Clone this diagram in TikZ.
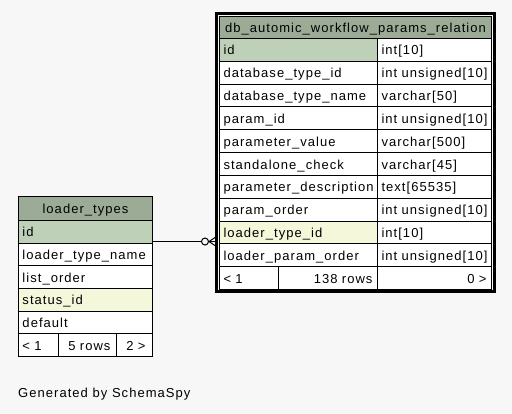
\documentclass[tikz,border=0pt]{standalone}
\usepackage{fontspec}
\newfontfamily\tf{Liberation Sans}[LetterSpace=8]
\usetikzlibrary{calc}
\definecolor{bgc}{HTML}{F7F7F7}
\definecolor{hdc}{HTML}{9BAB96}
\definecolor{pkc}{HTML}{BED1B8}
\definecolor{fkc}{HTML}{F4F7DA}
\tikzset{
  cell/.style={draw=black, line width=1pt, rectangle, anchor=north west,
    inner xsep=4pt, inner ysep=0pt, text height=13pt, text depth=3pt,
    font=\tf\fontsize{13}{15}\selectfont, fill=white},
  rrow/.style={cell, minimum height=22.82pt},
  lrow/.style={cell, minimum height=22.67pt},
  lw/.style={text width=#1, align=left},
  rw/.style={text width=#1, align=right},
  cw/.style={text width=#1, align=center},
  hdr/.style={fill=hdc},
  pk/.style={fill=pkc},
  fk/.style={fill=fkc},
  link/.style={draw=black, line width=1pt},
}
\begin{document}
\begin{tikzpicture}[x=1pt,y=-1pt]
\useasboundingbox (0,0) rectangle (512,414);
\fill[bgc] (0,0) rectangle (512,414);
% ---------- right table ----------
\node[cell, hdr, minimum height=22pt, cw=264pt] (rh) at (219,16) {db\_automic\_workflow\_params\_relation};
\node[rrow, pk, lw=150pt] (rn0) at (219,38) {id};
\node[rrow, lw=106pt] (rt0) at (377,38) {int[10]};
\node[rrow, lw=150pt] (rn1) at (219,60.82) {database\_type\_id};
\node[rrow, lw=106pt] (rt1) at (377,60.82) {int unsigned[10]};
\node[rrow, lw=150pt] (rn2) at (219,83.64) {database\_type\_name};
\node[rrow, lw=106pt] (rt2) at (377,83.64) {varchar[50]};
\node[rrow, lw=150pt] (rn3) at (219,106.46) {param\_id};
\node[rrow, lw=106pt] (rt3) at (377,106.46) {int unsigned[10]};
\node[rrow, lw=150pt] (rn4) at (219,129.28) {parameter\_value};
\node[rrow, lw=106pt] (rt4) at (377,129.28) {varchar[500]};
\node[rrow, lw=150pt] (rn5) at (219,152.10) {standalone\_check};
\node[rrow, lw=106pt] (rt5) at (377,152.10) {varchar[45]};
\node[rrow, lw=150pt] (rn6) at (219,174.92) {parameter\_description};
\node[rrow, lw=106pt] (rt6) at (377,174.92) {text[65535]};
\node[rrow, lw=150pt] (rn7) at (219,197.74) {param\_order};
\node[rrow, lw=106pt] (rt7) at (377,197.74) {int unsigned[10]};
\node[rrow, fk, lw=150pt] (rn8) at (219,220.56) {loader\_type\_id};
\node[rrow, lw=106pt] (rt8) at (377,220.56) {int[10]};
\node[rrow, lw=150pt] (rn9) at (219,243.38) {loader\_param\_order};
\node[rrow, lw=106pt] (rt9) at (377,243.38) {int unsigned[10]};
\node[rrow, lw=51pt] (rf1) at (219,266.20) {< 1};
\node[rrow, rw=89pt, inner xsep=5pt] (rf2) at (278,266.20) {138 rows};
\node[rrow, rw=104pt, inner xsep=5pt] (rf3) at (377,266.20) {0 >};
% ---------- left table ----------
\node[cell, hdr, minimum height=24pt, cw=126pt] (lh) at (18,196) {loader\_types};
\node[lrow, pk, lw=126pt] (ln0) at (18,220) {id};
\node[lrow, lw=126pt] (ln1) at (18,242.67) {loader\_type\_name};
\node[lrow, lw=126pt] (ln2) at (18,265.34) {list\_order};
\node[lrow, fk, lw=126pt] (ln3) at (18,288.01) {status\_id};
\node[lrow, lw=126pt] (ln4) at (18,310.68) {default};
\node[lrow, lw=32pt] (lf1) at (18,333.35) {< 1};
\node[lrow, rw=46pt, inner xsep=6pt] (lf2) at (58,333.35) {5 rows};
\node[lrow, rw=22pt, inner xsep=7pt] (lf3) at (116,333.35) {2 >};
% ---------- connector ----------
\coordinate (lport) at ([yshift=-9.7pt]ln0.east);
\coordinate (rport) at (lport -| rn8.west);
\coordinate (rend) at ($(rport)+(-4,0)$);
\node[circle, draw=black, line width=1pt, minimum size=7pt, inner sep=0pt] (odot) at ($(rend)+(-10,0)$) {};
\draw[link] (lport) -- (odot.west);
\draw[link] (odot.east) -- (rend);
\coordinate (crow) at ($(rend)+(-6,0)$);
\draw[link] (crow) -- ($(rend)+(0,-4)$);
\draw[link] (crow) -- ($(rend)+(0,4)$);
% ---------- focus border ----------
\draw[black, line width=3pt] (216.5,13.5) rectangle (494,291.5);
% ---------- footer text ----------
\node[anchor=base west, inner sep=0pt, font=\tf\fontsize{13}{15}\selectfont] (gen) at (18,398) {Generated by SchemaSpy};
\end{tikzpicture}
\end{document}
